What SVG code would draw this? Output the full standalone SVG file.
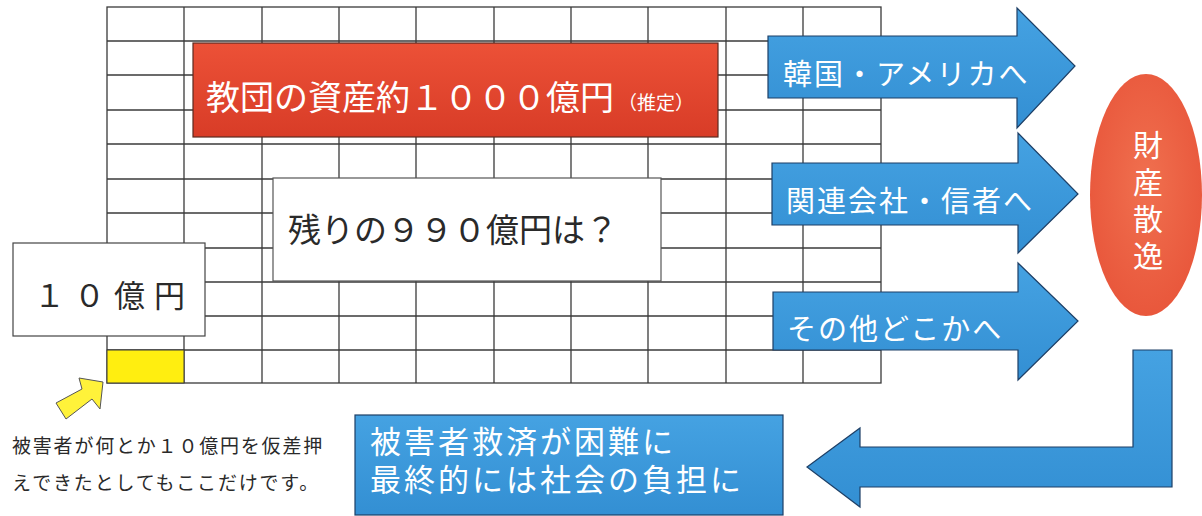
<svg xmlns="http://www.w3.org/2000/svg" width="1202" height="516" viewBox="0 0 1202 516">
<style>
.grid line{stroke:#3a3a3a;stroke-width:1.3}
.jp{font-family:"Noto Sans CJK JP","Noto Sans CJK SC",sans-serif}
.wt{fill:#ffffff}
.bk{fill:#2a2a2a}
.blue{fill:url(#gBlue);stroke:#1d3f66;stroke-width:1.2}
</style>
<defs>
<linearGradient id="gBlue" x1="0" y1="0" x2="0" y2="1">
<stop offset="0" stop-color="#45a2e2"/>
<stop offset="1" stop-color="#338fd3"/>
</linearGradient>
<linearGradient id="gRed" x1="0" y1="0" x2="0" y2="1">
<stop offset="0" stop-color="#ec5137"/>
<stop offset="1" stop-color="#d83c27"/>
</linearGradient>
<radialGradient id="gEll" cx="0.5" cy="0.45" r="0.6">
<stop offset="0" stop-color="#f0704f"/>
<stop offset="1" stop-color="#e8553a"/>
</radialGradient>
</defs>
<rect width="1202" height="516" fill="#ffffff"/>
<g id="grid" class="grid">
<rect x="107" y="7" width="774" height="376" fill="#ffffff" stroke="#3a3a3a" stroke-width="1.3"/>
<line x1="184" y1="7" x2="184" y2="383"/>
<line x1="262" y1="7" x2="262" y2="383"/>
<line x1="339" y1="7" x2="339" y2="383"/>
<line x1="416" y1="7" x2="416" y2="383"/>
<line x1="494" y1="7" x2="494" y2="383"/>
<line x1="571" y1="7" x2="571" y2="383"/>
<line x1="648" y1="7" x2="648" y2="383"/>
<line x1="726" y1="7" x2="726" y2="383"/>
<line x1="803" y1="7" x2="803" y2="383"/>
<line x1="107" y1="41" x2="881" y2="41"/>
<line x1="107" y1="75" x2="881" y2="75"/>
<line x1="107" y1="110" x2="881" y2="110"/>
<line x1="107" y1="144" x2="881" y2="144"/>
<line x1="107" y1="179" x2="881" y2="179"/>
<line x1="107" y1="213" x2="881" y2="213"/>
<line x1="107" y1="248" x2="881" y2="248"/>
<line x1="107" y1="282" x2="881" y2="282"/>
<line x1="107" y1="316" x2="881" y2="316"/>
<line x1="107" y1="350" x2="881" y2="350"/>
</g>
<g id="cell-yellow">
<rect x="107" y="350" width="77" height="33" fill="#ffee10" stroke="#3a3a3a" stroke-width="1"/>
</g>
<g id="node-assets">
<rect x="193" y="43" width="525" height="94" fill="url(#gRed)" stroke="#5a2a20" stroke-width="1.2"/>
<text class="jp wt" x="206" y="110" font-size="34">教団の資産約１０００億円<tspan font-size="19" dx="4">（推定）</tspan></text>
</g>
<g id="node-remaining">
<rect x="273" y="178" width="388" height="103" fill="#ffffff" stroke="#555555" stroke-width="1.2"/>
<text class="jp bk" x="288" y="242" font-size="33">残りの９９０億円は？</text>
</g>
<g id="node-10oku">
<rect x="13" y="243" width="192" height="93" fill="#ffffff" stroke="#444444" stroke-width="1.2"/>
<text class="jp bk" x="34" y="307" font-size="31" letter-spacing="9">１０億円</text>
</g>
<g id="node-korea">
<polygon class="blue" points="768,36 1017,36 1017,8 1075,66 1017,128 1017,98 768,98"/>
<text class="jp wt" x="783" y="85" font-size="29" letter-spacing="2">韓国・アメリカへ</text>
</g>
<g id="node-related">
<polygon class="blue" points="772,163 1018,163 1018,133 1078,194 1018,253 1018,225 772,225"/>
<text class="jp wt" x="786" y="212" font-size="29" letter-spacing="2">関連会社・信者へ</text>
</g>
<g id="node-other">
<polygon class="blue" points="773,292 1018,292 1018,263 1078,321 1018,380 1018,350 773,350"/>
<text class="jp wt" x="787" y="340" font-size="29" letter-spacing="2">その他どこかへ</text>
</g>
<g id="node-dispersal">
<ellipse cx="1146" cy="195" rx="56" ry="121" fill="url(#gEll)"/>
<text class="jp wt" x="1148" y="130" font-size="30" letter-spacing="7" writing-mode="vertical-rl">財産散逸</text>
</g>
<g id="node-burden">
<rect x="355" y="415" width="428" height="100" fill="url(#gBlue)" stroke="#1d3f66" stroke-width="1.2"/>
<text class="jp wt" x="370" y="453" font-size="31" letter-spacing="3">被害者救済が困難に</text>
<text class="jp wt" x="370" y="491" font-size="31" letter-spacing="3">最終的には社会の負担に</text>
</g>
<g id="node-caption">
<text class="jp bk" x="12" y="453" font-size="19" letter-spacing="1.8">被害者が何とか１０億円を仮差押</text>
<text class="jp bk" x="12" y="490" font-size="19" letter-spacing="1.8">えできたとしてもここだけです。</text>
</g>
<g id="connectors">
<polygon class="blue" points="1133,350 1172,350 1172,487 860,487 860,507 807,467 860,428 860,447 1133,447"/>
<polygon points="103,382 100,409 92,399 66,419 56,403 82,389 79,378" fill="#fff23a" stroke="#555555" stroke-width="1"/>
</g>
</svg>
